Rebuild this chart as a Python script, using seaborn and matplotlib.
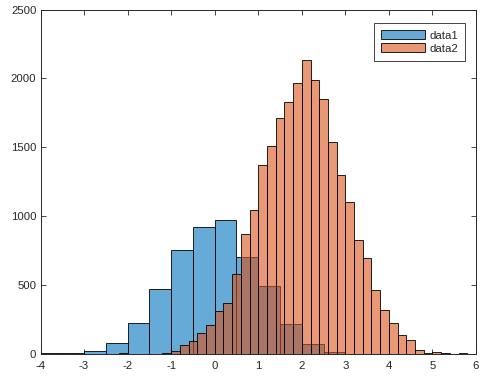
import numpy as np
import pandas as pd
import matplotlib
matplotlib.use("Agg")
import matplotlib.pyplot as plt
import seaborn as sns
from matplotlib.patches import Patch

# ---- data ----
edges1 = [-4.0, -3.5, -3.0, -2.5, -2.0, -1.5, -1.0, -0.5, 0.0, 0.5, 1.0, 1.5,
          2.0, 2.5, 3.0, 3.5, 4.0]
counts1 = [4, 10, 24, 82, 227, 475, 752, 920, 975, 701, 490, 220, 74, 16, 3, 2]

edges2 = [round(-2.2 + 0.2 * i, 1) for i in range(41)]
counts2 = [9, 0, 0, 3, 3, 9, 23, 67, 96, 155, 213, 315, 373, 577, 869, 1044,
           1372, 1510, 1714, 1831, 1969, 2137, 1991, 1853, 1539, 1299, 1102,
           825, 694, 468, 317, 222, 140, 104, 30, 9, 17, 9, 1, 4]

labels = ["data1", "data2"]
xticks = [-4, -3, -2, -1, 0, 1, 2, 3, 4, 5, 6]
yticks = [0, 500, 1000, 1500, 2000, 2500]

blue = (0.0, 0.447, 0.741)
orange = (0.85, 0.325, 0.098)
axc = "#262626"

sns.set_style("white")
plt.rcParams["font.family"] = ["Liberation Sans", "DejaVu Sans"]

fig = plt.figure(figsize=(4.91, 3.77), dpi=100)
W, H = 491, 377
ax = fig.add_axes([40.5 / W, (H - 354) / H, (476 - 40.5) / W, (354 - 9.5) / H])

e1 = np.array(edges1)
e2 = np.array(edges2)
df1 = pd.DataFrame({"x": (e1[:-1] + e1[1:]) / 2, "w": counts1})
df2 = pd.DataFrame({"x": (e2[:-1] + e2[1:]) / 2, "w": counts2})

n0 = len(ax.patches)
sns.histplot(data=df1, x="x", weights="w", bins=list(edges1), color=blue, ax=ax,
             alpha=0.6, edgecolor="black", linewidth=0.6)
for p in ax.patches[n0:]:
    p.set_alpha(None)
    p.set_facecolor(blue + (0.6,))
    p.set_edgecolor((0, 0, 0, 1))
n1 = len(ax.patches)
sns.histplot(data=df2, x="x", weights="w", bins=list(edges2), color=orange, ax=ax,
             alpha=0.6, edgecolor="black", linewidth=0.6)
for p in ax.patches[n1:]:
    p.set_alpha(None)
    p.set_facecolor(orange + (0.6,))
    p.set_edgecolor((0, 0, 0, 1))

ax.set_xlim(-4, 6)
ax.set_ylim(0, 2500)
ax.set_xticks(xticks)
ax.set_yticks(yticks)
ax.set_xticklabels([str(t) for t in xticks])
ax.set_yticklabels([str(t) for t in yticks])
ax.set_xlabel("")
ax.set_ylabel("")
for s in ax.spines.values():
    s.set_visible(True)
    s.set_color(axc)
    s.set_linewidth(0.7)
ax.tick_params(direction="in", length=3.5, width=0.6, color=axc, labelcolor=axc,
               labelsize=8.2, top=True, right=True, bottom=True, left=True)
ax.tick_params(axis="x", pad=5)
ax.tick_params(axis="y", pad=3)

handles = [Patch(facecolor=blue + (0.6,), edgecolor="black", linewidth=0.6),
           Patch(facecolor=orange + (0.6,), edgecolor="black", linewidth=0.6)]
leg = ax.legend(handles, labels, loc="upper right",
                bbox_to_anchor=((465 - 40.5) / 435.5, (354 - 23) / 344.5),
                borderaxespad=0, fancybox=False, framealpha=1, edgecolor=axc,
                fontsize=8.2, handlelength=3.9, handleheight=0.85,
                handletextpad=0.35, borderpad=0.62, labelspacing=0.22)
leg.get_frame().set_linewidth(0.6)
for t in leg.get_texts():
    t.set_color(axc)

fig.savefig("out.png", dpi=100)
